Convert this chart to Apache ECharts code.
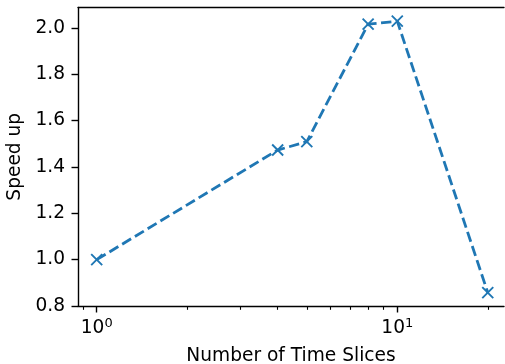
<!DOCTYPE html>
<html><head><meta charset="utf-8">
<script src="https://cdn.jsdelivr.net/npm/echarts@6/dist/echarts.min.js"></script>
<style>html,body{margin:0;padding:0;background:#fff;overflow:hidden}#c{width:505px;height:364px}</style>
</head><body><div id="c"></div>
<script>
const timeSlices = [1, 4, 5, 8, 10, 20];
const speedUp = [1.0, 1.473, 1.509, 2.016, 2.029, 0.858];
const yTicks = [0.8, 1.0, 1.2, 1.4, 1.6, 1.8, 2.0];
const xMajorTicks = [1, 10];
const xMinorTicks = [0.9, 2, 3, 4, 5, 6, 7, 8, 9, 20];

const FONT = 'DejaVu Sans';
const BLUE = '#1f77b4';
const FS = 18.6;
const chart = echarts.init(document.getElementById('c'), null, {renderer: 'canvas'});
const xMin = 0.8666, xMax = 22.65;
chart.setOption({
  animation: false,
  backgroundColor: '#fff',
  grid: {left: 78, top: 7.5, right: 1, bottom: 58, outerBoundsMode: 'none', containLabel: false, show: false},
  xAxis: [{
    type: 'log', logBase: 10, min: xMin, max: xMax, position: 'bottom',
    name: 'Number of Time Slices', nameLocation: 'middle', nameGap: 41,
    nameTextStyle: {fontFamily: FONT, fontSize: FS, color: '#000'},
    axisLine: {show: true, onZero: false, lineStyle: {color: '#000', width: 1.4}},
    axisTick: {show: true, length: 6.5, customValues: xMajorTicks, lineStyle: {color: '#000', width: 1.4}},
    axisLabel: {
      customValues: xMajorTicks, margin: 11,
      formatter: function (v) { return '{b|10}{sup|' + Math.round(Math.log10(v)) + '}'; },
      rich: {
        b: {fontFamily: FONT, fontSize: FS, lineHeight: 23, color: '#000'},
        sup: {fontFamily: FONT, fontSize: 13, lineHeight: 13, color: '#000', verticalAlign: 'top'}
      }
    },
    splitLine: {show: false}, minorTick: {show: false}
  }, {
    type: 'log', logBase: 10, min: xMin, max: xMax, position: 'bottom',
    axisLine: {show: false, onZero: false},
    axisTick: {show: true, length: 3.8, customValues: xMinorTicks, lineStyle: {color: '#000', width: 1.1}},
    axisLabel: {show: false},
    splitLine: {show: false}
  }, {
    type: 'log', logBase: 10, min: xMin, max: xMax, position: 'top',
    axisLine: {show: true, onZero: false, lineStyle: {color: '#000', width: 1.4}},
    axisTick: {show: false}, axisLabel: {show: false}, splitLine: {show: false}
  }],
  yAxis: {
    type: 'value', min: 0.8, max: 2.088, position: 'left',
    name: 'Speed up', nameLocation: 'middle', nameGap: 49,
    nameTextStyle: {fontFamily: FONT, fontSize: FS, color: '#000'},
    axisLine: {show: true, onZero: false, lineStyle: {color: '#000', width: 1.4}},
    axisTick: {show: true, length: 6.5, customValues: yTicks, lineStyle: {color: '#000', width: 1.4}},
    axisLabel: {customValues: yTicks, margin: 13, fontFamily: FONT, fontSize: FS, color: '#000',
      formatter: function (v) { return v.toFixed(1); }},
    splitLine: {show: false}
  },
  series: [{
    type: 'line', xAxisIndex: 0,
    data: timeSlices.map(function (x, i) { return [x, speedUp[i]]; }),
    lineStyle: {color: BLUE, width: 2.8, type: [10.4, 4.5]},
    symbol: 'path://M0,0L10,10M10,0L0,10', symbolSize: 11,
    itemStyle: {color: BLUE, borderColor: BLUE, borderWidth: 1.9},
    showSymbol: true, clip: false
  }]
});
</script></body></html>
